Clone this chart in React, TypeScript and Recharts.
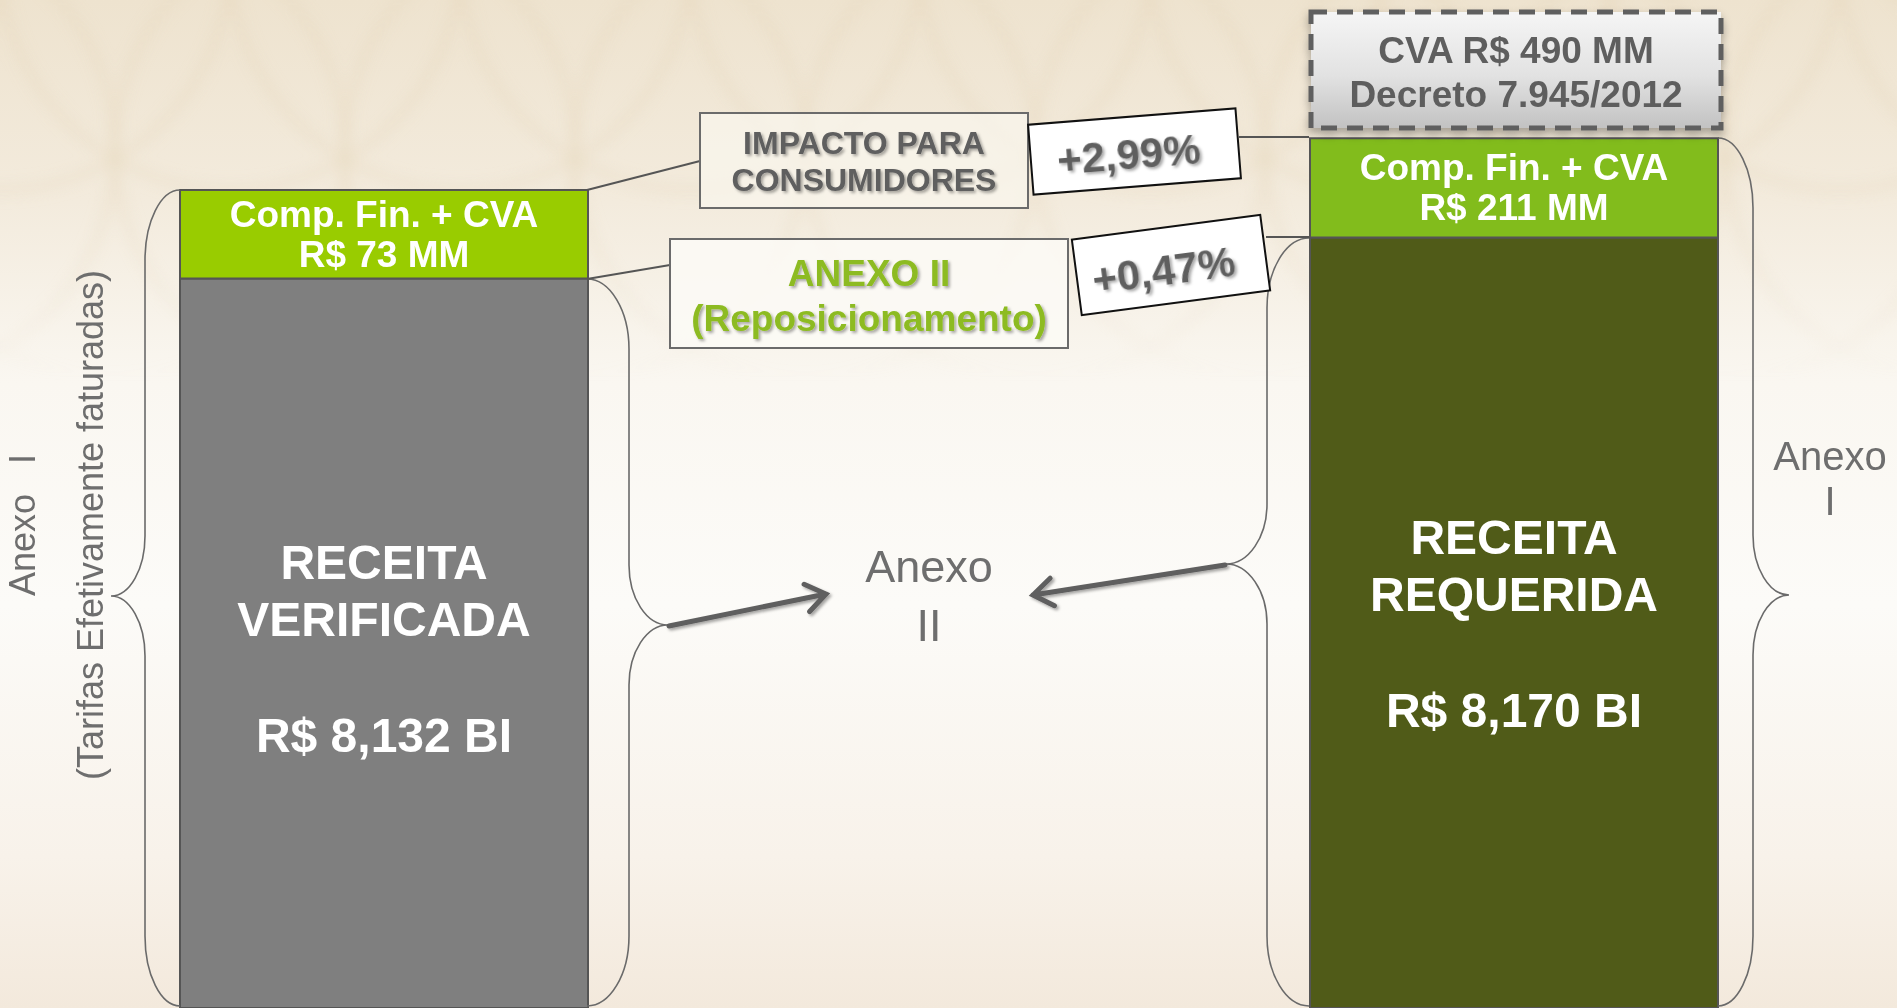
import React from "react";
import { BarChart, Bar, XAxis, YAxis, Cell, LabelList } from "recharts";

const W = 1897;
const H = 1008;

// middle slot stays empty: that's where "Anexo II" sits between the bars
const categorias = ["Receita Verificada", "Anexo II", "Receita Requerida"];
// receita in R$ billions
const receitaBi = [8.132, null, 8.17];
// Comp. Fin. + CVA in R$ millions (label)
const compMM = [73, null, 211];
// green block height as drawn on the slide (not to scale), in axis units
const compDesenho = [0.082, null, 0.092];
const titulos = [["RECEITA", "VERIFICADA"], [], ["RECEITA", "REQUERIDA"]];
const impactos = ["+2,99%", "+0,47%"];
const cvaTexto = ["CVA R$ 490 MM", "Decreto 7.945/2012"];

const yDomain: [number, number] = [7.456, 8.39];

const corBase = ["#7f7f7f", "transparent", "#505b18"];
const corComp = ["#99cc00", "transparent", "#82bc1c"];

const FONT = "'Liberation Sans', Arial, Helvetica, sans-serif";

const data = categorias.map((c, i) => ({
  categoria: c,
  receita: receitaBi[i],
  comp: compDesenho[i],
}));

// bars are only drawn for non-empty slots, so label index != data index
const presentes = categorias.map((_, i) => i).filter((i) => receitaBi[i] != null);

const dataIndex = (p: any) => {
  const cat = p.payload?.categoria;
  if (cat) return categorias.indexOf(cat);
  return presentes[p.index] ?? p.index;
};

const fmtBi = (v: number) => "R$ " + v.toFixed(3).replace(".", ",") + " BI";

const box = (p: any) => {
  const vb = p.viewBox || {};
  const x = p.x ?? vb.x;
  const y = p.y ?? vb.y;
  const width = p.width ?? vb.width;
  const height = p.height ?? vb.height;
  return { x, y, width, height };
};

const BaseLabel = (p: any) => {
  const i = dataIndex(p);
  if (receitaBi[i] == null) return null;
  const { x, y, width, height } = box(p);
  const bottom = Math.min(y + height, H);
  const cx = x + width / 2;
  const y0 = y + (bottom - y) * 0.39;
  const [l1, l2] = titulos[i];
  const st = { fill: "#fff", fontFamily: FONT, fontWeight: 700, fontSize: 48 };
  return (
    <g>
      <text x={cx} y={y0} textAnchor="middle" dominantBaseline="central" style={st}>{l1}</text>
      <text x={cx} y={y0 + 57} textAnchor="middle" dominantBaseline="central" style={st}>{l2}</text>
      <text x={cx} y={y0 + 173} textAnchor="middle" dominantBaseline="central" style={st}>
        {fmtBi(receitaBi[i] as number)}
      </text>
    </g>
  );
};

const CompLabel = (p: any) => {
  const i = dataIndex(p);
  if (compMM[i] == null) return null;
  const { x, y, width, height } = box(p);
  const cx = x + width / 2;
  const cy = y + height / 2;
  const st = { fill: "#fff", fontFamily: FONT, fontWeight: 700, fontSize: 37 };
  return (
    <g>
      <text x={cx} y={cy - 20} textAnchor="middle" dominantBaseline="central" style={st}>Comp. Fin. + CVA</text>
      <text x={cx} y={cy + 20} textAnchor="middle" dominantBaseline="central" style={st}>{`R$ ${compMM[i]} MM`}</text>
    </g>
  );
};

// curly brace: edge of the bar -> vertical run -> tip
function bracePath(edgeX: number, top: number, bottom: number, tipY: number, vertX: number, tipX: number, r = 70, r2 = 60) {
  const k = 0.55;
  const dx = vertX - edgeX;
  const dt = tipX - vertX;
  return [
    `M ${edgeX} ${top}`,
    `C ${edgeX + k * dx} ${top} ${vertX} ${top + r - k * r} ${vertX} ${top + r}`,
    `L ${vertX} ${tipY - r2}`,
    `C ${vertX} ${tipY - r2 + k * r2} ${tipX - k * dt} ${tipY} ${tipX} ${tipY}`,
    `C ${tipX - k * dt} ${tipY} ${vertX} ${tipY + r2 - k * r2} ${vertX} ${tipY + r2}`,
    `L ${vertX} ${bottom - r}`,
    `C ${vertX} ${bottom - r + k * r} ${edgeX + k * dx} ${bottom} ${edgeX} ${bottom}`,
  ].join(" ");
}

function arrowPath(x1: number, y1: number, x2: number, y2: number, len = 24, ang = 0.62) {
  const a = Math.atan2(y2 - y1, x2 - x1);
  const p1 = [x2 - len * Math.cos(a - ang), y2 - len * Math.sin(a - ang)];
  const p2 = [x2 - len * Math.cos(a + ang), y2 - len * Math.sin(a + ang)];
  return `M ${x1} ${y1} L ${x2} ${y2} M ${p1[0]} ${p1[1]} L ${x2} ${y2} L ${p2[0]} ${p2[1]}`;
}

const Background = () => {
  const circles = [];
  for (let row = 0; row < 2; row++) {
    for (let k = -1; k < 11; k++) {
      circles.push(
        <circle key={`${row}-${k}`} cx={k * 230 + (row ? 115 : 0)} cy={row ? 150 : -40} r={230}
          fill="none" stroke="#e7d9bf" strokeWidth={14} opacity={0.35} />
      );
    }
  }
  return (
    <svg width={W} height={H} style={{ position: "absolute", left: 0, top: 0 }}>
      <defs>
        <linearGradient id="bg" x1="0" y1="0" x2="0" y2="1">
          <stop offset="0" stopColor="#eee3cf" />
          <stop offset="0.2" stopColor="#f3ebdd" />
          <stop offset="0.38" stopColor="#faf7f1" />
          <stop offset="0.6" stopColor="#fcfbf8" />
          <stop offset="0.85" stopColor="#f8f2ea" />
          <stop offset="1" stopColor="#f3e9dc" />
        </linearGradient>
        <linearGradient id="fadeG" x1="0" y1="0" x2="0" y2="1">
          <stop offset="0" stopColor="#fff" />
          <stop offset="0.22" stopColor="#fff" stopOpacity={0.6} />
          <stop offset="0.38" stopColor="#fff" stopOpacity={0} />
        </linearGradient>
        <mask id="fade">
          <rect width={W} height={H} fill="url(#fadeG)" />
        </mask>
        <filter id="soft"><feGaussianBlur stdDeviation="6" /></filter>
      </defs>
      <rect width={W} height={H} fill="url(#bg)" />
      <g mask="url(#fade)" filter="url(#soft)">{circles}</g>
    </svg>
  );
};

const Overlay = () => {
  const cinza = "#6a6a6a";
  const txtGray = { fontFamily: FONT, fontWeight: 700, fill: "#5e5e5e" } as const;
  const thin = { fontFamily: FONT, fill: "#6e6e6e" } as const;
  return (
    <svg width={W} height={H} style={{ position: "absolute", left: 0, top: 0, pointerEvents: "none" }}>
      <defs>
        <filter id="sh" x="-20%" y="-20%" width="140%" height="160%">
          <feDropShadow dx="2" dy="2" stdDeviation="1.5" floodColor="#000" floodOpacity="0.35" />
        </filter>
        <filter id="shBox" x="-10%" y="-10%" width="120%" height="140%">
          <feDropShadow dx="0" dy="5" stdDeviation="4" floodColor="#000" floodOpacity="0.3" />
        </filter>
        <linearGradient id="cvaG" x1="0" y1="0" x2="0" y2="1">
          <stop offset="0" stopColor="#f5f5f5" />
          <stop offset="0.55" stopColor="#e2e2e2" />
          <stop offset="1" stopColor="#c2c2c2" />
        </linearGradient>
      </defs>

      {/* braces */}
      <g fill="none" stroke={cinza} strokeWidth={1.6}>
        <path d={bracePath(180, 190, 1006, 596, 145, 111)} />
        <path d={bracePath(587, 279, 1006, 625, 629, 668)} />
        <path d={bracePath(1309, 238, 1006, 564, 1267, 1226)} />
        <path d={bracePath(1718, 138, 1006, 595, 1753, 1789)} />
      </g>

      {/* connector lines */}
      <g stroke="#555" strokeWidth={2}>
        <line x1={587} y1={190} x2={700} y2={161} />
        <line x1={587} y1={279} x2={670} y2={265} />
        <line x1={1239} y1={137} x2={1309} y2={137} />
        <line x1={1266} y1={237} x2={1309} y2={237} />
      </g>

      {/* arrows to "Anexo II" */}
      <g fill="none" stroke="#5f5f5f" strokeWidth={5} strokeLinecap="round" filter="url(#sh)">
        <path d={arrowPath(669, 626, 826, 594)} />
        <path d={arrowPath(1225, 565, 1033, 595)} />
      </g>

      {/* CVA dashed box */}
      <g filter="url(#shBox)">
        <rect x={1311} y={12} width={410} height={116} fill="url(#cvaG)" stroke="#5f5f5f"
          strokeWidth={5} strokeDasharray="16 10" />
      </g>
      <text x={1516} y={50} textAnchor="middle" dominantBaseline="central" style={{ ...txtGray, fontSize: 37 }}>{cvaTexto[0]}</text>
      <text x={1516} y={94} textAnchor="middle" dominantBaseline="central" style={{ ...txtGray, fontSize: 37 }}>{cvaTexto[1]}</text>

      {/* IMPACTO box */}
      <rect x={700} y={113} width={328} height={95} fill="rgba(250,246,238,0.7)" stroke="#6b6b6b" strokeWidth={2} />
      <g filter="url(#sh)">
        <text x={864} y={143} textAnchor="middle" dominantBaseline="central" style={{ ...txtGray, fontSize: 32 }}>IMPACTO PARA</text>
        <text x={864} y={180} textAnchor="middle" dominantBaseline="central" style={{ ...txtGray, fontSize: 32 }}>CONSUMIDORES</text>
      </g>

      {/* ANEXO II box */}
      <rect x={670} y={239} width={398} height={109} fill="rgba(252,250,246,0.85)" stroke="#6b6b6b" strokeWidth={2} />
      <g filter="url(#sh)">
        <text x={869} y={273} textAnchor="middle" dominantBaseline="central" style={{ fontFamily: FONT, fontWeight: 700, fill: "#8dbb22", fontSize: 37 }}>ANEXO II</text>
        <text x={869} y={318} textAnchor="middle" dominantBaseline="central" style={{ fontFamily: FONT, fontWeight: 700, fill: "#8dbb22", fontSize: 37 }}>(Reposicionamento)</text>
      </g>

      {/* rotated percentage boxes */}
      <g transform="translate(1134.5 151.5) rotate(-4.5)">
        <rect x={-104} y={-35} width={208} height={70} fill="#fff" stroke="#111" strokeWidth={2} />
        <text x={-6} y={2} textAnchor="middle" dominantBaseline="central" filter="url(#sh)" style={{ ...txtGray, fontSize: 42 }}>{impactos[0]}</text>
      </g>
      <g transform="translate(1171 265) rotate(-7.5)">
        <rect x={-95} y={-38} width={190} height={76} fill="#fff" stroke="#111" strokeWidth={2} />
        <text x={-8} y={4} textAnchor="middle" dominantBaseline="central" filter="url(#sh)" style={{ ...txtGray, fontSize: 42 }}>{impactos[1]}</text>
      </g>

      {/* Anexo labels */}
      <text x={929} y={566} textAnchor="middle" dominantBaseline="central" style={{ ...thin, fontSize: 45 }}>Anexo</text>
      <text x={929} y={625} textAnchor="middle" dominantBaseline="central" style={{ ...thin, fontSize: 45 }}>II</text>
      <text x={1830} y={456} textAnchor="middle" dominantBaseline="central" style={{ ...thin, fontSize: 40 }}>Anexo</text>
      <text x={1830} y={501} textAnchor="middle" dominantBaseline="central" style={{ ...thin, fontSize: 40 }}>I</text>
      <g transform="translate(22 525) rotate(-90)">
        <text x={0} y={0} textAnchor="middle" dominantBaseline="central" style={{ ...thin, fontSize: 36, whiteSpace: "pre" }}>{"Anexo   I"}</text>
      </g>
      <g transform="translate(90 525) rotate(-90)">
        <text x={0} y={0} textAnchor="middle" dominantBaseline="central" style={{ ...thin, fontSize: 36 }}>(Tarifas Efetivamente faturadas)</text>
      </g>
    </svg>
  );
};

export default function App() {
  return (
    <div style={{ position: "absolute", left: 0, top: 0, width: W, height: H, overflow: "hidden" }}>
      <Background />
      <div style={{ position: "absolute", left: 0, top: 0 }}>
        <BarChart width={W} height={H} data={data} margin={{ top: 0, right: 101, bottom: 0, left: 101 }} barSize={408}>
          <XAxis dataKey="categoria" hide />
          <YAxis type="number" domain={yDomain} allowDataOverflow hide />
          <Bar dataKey="receita" stackId="s" isAnimationActive={false} stroke="#555" strokeWidth={2}>
            {data.map((d, i) => (
              <Cell key={d.categoria} fill={corBase[i]} />
            ))}
            <LabelList dataKey="receita" content={BaseLabel} />
          </Bar>
          <Bar dataKey="comp" stackId="s" isAnimationActive={false} stroke="#555" strokeWidth={2}>
            {data.map((d, i) => (
              <Cell key={d.categoria} fill={corComp[i]} />
            ))}
            <LabelList dataKey="comp" content={CompLabel} />
          </Bar>
        </BarChart>
      </div>
      <Overlay />
    </div>
  );
}
